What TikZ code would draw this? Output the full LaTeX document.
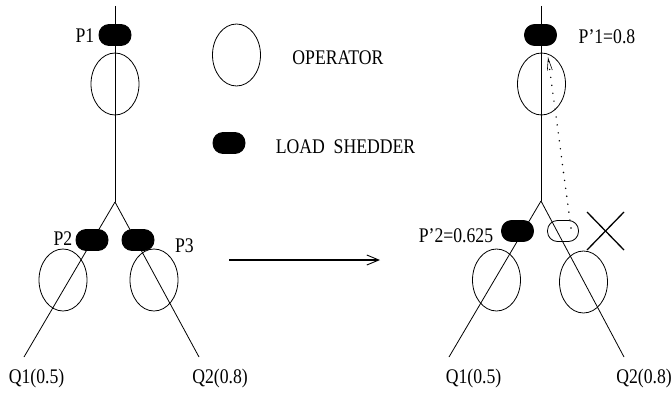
\documentclass[tikz,border=0pt]{standalone}
\usepackage{fontspec}
\usepackage{graphicx}
\setmainfont{Liberation Serif}
\usetikzlibrary{shapes.geometric,arrows.meta}
\newcommand{\lbl}[1]{\scalebox{0.85}[1]{#1}}
\tikzset{
  operator/.style={draw,ellipse,minimum width=48pt,minimum height=62pt,inner sep=0pt,line width=0.8pt},
  shedder/.style={draw,fill=black,rounded corners=10pt,minimum width=32pt,minimum height=21pt,inner sep=0pt,line width=0.8pt},
  hollowshed/.style={draw,fill=white,rounded corners=10pt,minimum width=31pt,minimum height=21pt,inner sep=0pt,line width=0.8pt},
  wire/.style={line width=0.8pt},
  txt/.style={anchor=base,inner sep=0pt,font=\fontsize{20.8pt}{22pt}\selectfont},
}
\begin{document}
\begin{tikzpicture}[x=1pt,y=-1pt]
\useasboundingbox (0,0) rectangle (672,396);
% ---------------- left tree ----------------
\coordinate (Ltop) at (115,6);
\coordinate (Lbr) at (115,202);
\coordinate (Lq1) at (24,357);
\coordinate (Lq2) at (199,357);
\draw[wire] (Ltop) -- (Lbr);
\draw[wire] (Lbr) -- (Lq1);
\draw[wire] (Lbr) -- (Lq2);
\node[operator] (Lop1) at (115,84) {};
\node[operator] (Lop2) at (63,280) {};
\node[operator] (Lop3) at (154,280) {};
\node[shedder] (Lp1) at (115,35) {};
\node[shedder] (Lp2) at (92,240) {};
\node[shedder] (Lp3) at (138,240) {};
\node[txt] (tP1) at (85,43) {\lbl{P1}};
\node[txt] (tP2) at (63,245) {\lbl{P2}};
\node[txt] (tP3) at (184.5,252) {\lbl{P3}};
\node[txt] (tQ1) at (36.5,383) {\lbl{Q1(0.5)}};
\node[txt] (tQ2) at (220,383) {\lbl{Q2(0.8)}};
% ---------------- legend ----------------
\node[operator] (legop) at (236.5,55) {};
\node[txt] (tOp) at (338,65) {\lbl{OPERATOR}};
\node[shedder] (legsh) at (229,143) {};
\node[txt] (tSh) at (345.5,153) {\lbl{LOAD\ \ SHEDDER}};
% ---------------- main arrow ----------------
\coordinate (Astart) at (229,260);
\coordinate (Aend) at (380,260);
\draw[line width=1.2pt,-{Straight Barb[length=12pt,width=10pt,line width=0.9pt]}] (Astart) -- (Aend);
% ---------------- right tree ----------------
\coordinate (Rtop) at (541,6);
\coordinate (Rbr) at (541,201);
\coordinate (Rq1) at (449,357);
\coordinate (Rq2) at (624,357);
\draw[wire] (Rtop) -- (Rbr);
\draw[wire] (Rbr) -- (Rq1);
\node[hollowshed] (Rp3) at (563,231) {};
\draw[wire] (Rbr) -- (Rq2);
\node[operator] (Rop1) at (541.5,84) {};
\node[operator] (Rop2) at (496.5,280) {};
\node[operator] (Rop3) at (583.5,282) {};
\node[shedder] (Rp1) at (540.5,35) {};
\node[shedder] (Rp2) at (517.5,231) {};
\coordinate (dotS) at (571,228);
\coordinate (dotE) at (548,57);
\draw[line width=1.6pt,line cap=round,dash pattern=on 0pt off 8pt,-{Straight Barb[length=12pt,width=5pt,line width=0.6pt,line cap=butt]}] (dotS) -- (dotE);
% cross
\coordinate (Xa) at (587,212);
\coordinate (Xb) at (624,250);
\coordinate (Xc) at (624,212);
\coordinate (Xd) at (587,250);
\draw[line width=1.3pt] (Xa) -- (Xb);
\draw[line width=1.3pt] (Xc) -- (Xd);
\node[txt] (tRP1) at (607,44) {\lbl{P’1=0.8}};
\node[txt] (tRP2) at (456,242) {\lbl{P’2=0.625}};
\node[txt] (tRQ1) at (473.5,383) {\lbl{Q1(0.5)}};
\node[txt] (tRQ2) at (644,383) {\lbl{Q2(0.8)}};
\end{tikzpicture}
\end{document}
